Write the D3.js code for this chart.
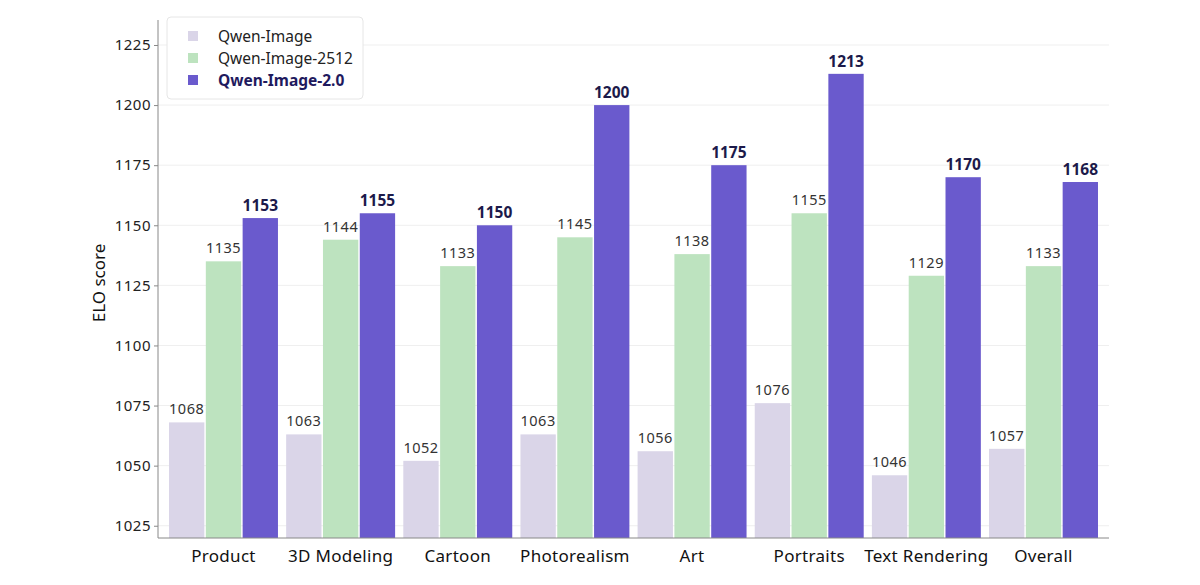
<!DOCTYPE html>
<html><head><meta charset="utf-8">
<script src="https://cdn.jsdelivr.net/npm/d3@7"></script>
<style>body{margin:0;background:#fff;} svg{display:block;font-family:"Noto Sans",sans-serif;}</style>
</head><body><svg id="c" width="1200" height="585"></svg>
<script>
const categories = ["Product","3D Modeling","Cartoon","Photorealism","Art","Portraits","Text Rendering","Overall"];
const seriesNames = ["Qwen-Image","Qwen-Image-2512","Qwen-Image-2.0"];
const qwenImage = [1068,1063,1052,1063,1056,1076,1046,1057];
const qwenImage2512 = [1135,1144,1133,1145,1138,1155,1129,1133];
const qwenImage20 = [1153,1155,1150,1200,1175,1213,1170,1168];
const yTicks = [1025,1050,1075,1100,1125,1150,1175,1200,1225];
const colors = ["#dad5e8","#bde3bf","#6a5acd"];
const series = [qwenImage, qwenImage2512, qwenImage20];

const svg = d3.select("#c");
const mLeft = 158, mRight = 1109, mTop = 20, mBottom = 538;
const y = d3.scaleLinear().domain([1019.9, 1235.4]).range([mBottom, mTop]);
const x0 = d3.scaleBand().domain(categories).range([mLeft, mRight]).paddingInner(0.07).paddingOuter(0.094);
const x1 = d3.scaleBand().domain(d3.range(3)).range([0, x0.bandwidth()]).paddingInner(0.04);

// grid
svg.append("g").selectAll("line").data(yTicks).join("line")
  .attr("x1", mLeft).attr("x2", mRight).attr("y1", d=>y(d)).attr("y2", d=>y(d))
  .attr("stroke", "#efefef").attr("stroke-width", 1);

// bars
const g = svg.append("g");
categories.forEach((c, i) => {
  series.forEach((s, j) => {
    const v = s[i];
    const bx = x0(c) + x1(j);
    g.append("rect").attr("x", bx).attr("y", y(v)).attr("width", x1.bandwidth())
      .attr("height", mBottom - y(v)).attr("fill", colors[j]);
    const t = g.append("text").attr("x", bx + x1.bandwidth()/2).attr("text-anchor","middle")
      .text(v);
    if (j === 2) {
      t.attr("y", y(v) - 7).attr("font-size", 15.5).attr("font-weight","bold").attr("fill","#1c1a4a");
    } else {
      t.attr("y", y(v) - 8).attr("font-size", 14.5).attr("fill","#333").attr("letter-spacing", 0.5);
    }
  });
});

// y axis
const ya = svg.append("g").attr("transform", `translate(${mLeft},0)`)
  .call(d3.axisLeft(y).tickValues(yTicks).tickFormat(d3.format("d")).tickSize(4).tickPadding(3));
ya.select(".domain").remove();
ya.selectAll(".tick line").attr("stroke","#888");
ya.selectAll(".tick text").attr("font-size", 15).attr("fill","#222").attr("font-family","Noto Sans").attr("letter-spacing", 0.5);
svg.append("line").attr("x1",mLeft).attr("x2",mLeft).attr("y1",mTop).attr("y2",mBottom).attr("stroke","#888");
svg.append("line").attr("x1",mLeft).attr("x2",mRight).attr("y1",mBottom).attr("y2",mBottom).attr("stroke","#888");

// x labels
const xa = svg.append("g").attr("transform", `translate(0,${mBottom})`)
  .call(d3.axisBottom(x0).tickSize(0).tickPadding(12));
xa.select(".domain").remove();
xa.selectAll(".tick text").attr("font-size", 17).attr("fill","#111").attr("font-family","Noto Sans").attr("letter-spacing", 0.3);

// y label
svg.append("text").attr("transform", `translate(105,${(mTop+mBottom)/2+4}) rotate(-90)`)
  .attr("text-anchor","middle").attr("font-size",17).attr("fill","#111").text("ELO score");

// legend
const lg = svg.append("g");
lg.append("rect").attr("x",167).attr("y",17).attr("width",196).attr("height",82).attr("rx",4)
  .attr("fill","#fff").attr("fill-opacity",0.9).attr("stroke","#e6e6e6");
seriesNames.forEach((n, j) => {
  const yy = 36 + j*22;
  lg.append("rect").attr("x",188).attr("y",yy-5).attr("width",10).attr("height",10).attr("fill",colors[j]);
  const t = lg.append("text").attr("x",218).attr("y",yy+5.5).attr("font-size",15.5).text(n);
  if (j === 2) t.attr("font-weight","bold").attr("fill","#1f1a5e");
  else t.attr("fill","#222");
});
</script></body></html>
